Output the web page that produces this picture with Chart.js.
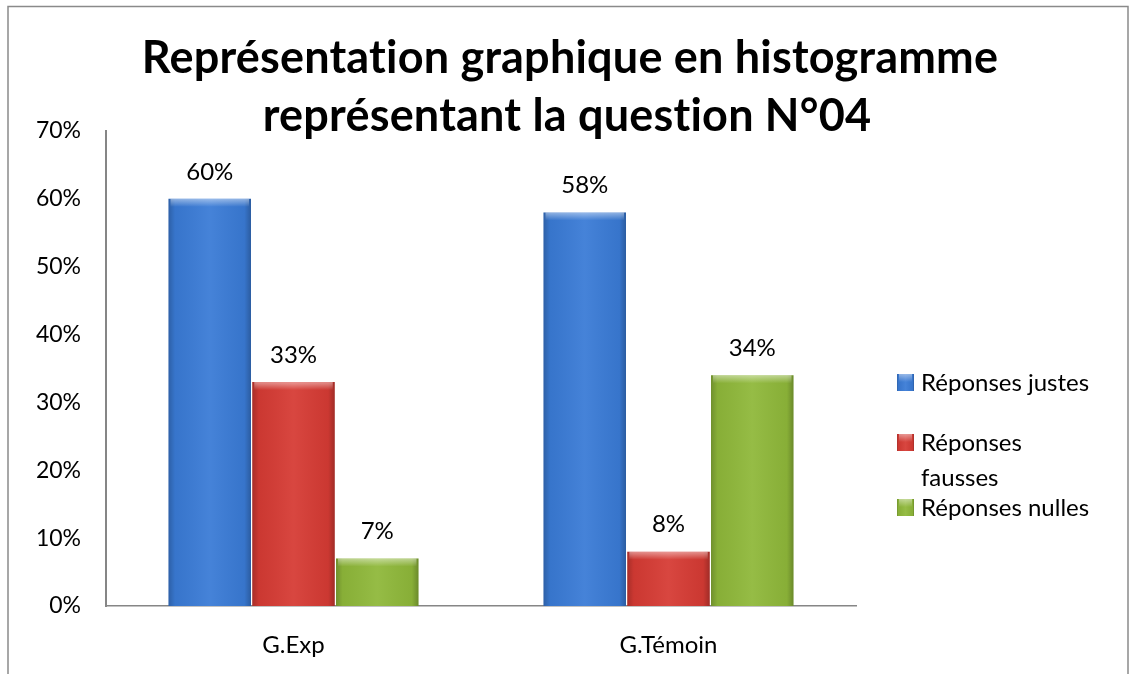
<!DOCTYPE html>
<html>
<head>
<meta charset="utf-8">
<script src="https://cdn.jsdelivr.net/npm/chart.js@4/dist/chart.umd.min.js"></script>
<style>
  html, body { margin: 0; padding: 0; background: #fff; }
  #wrap { width: 1133px; height: 674px; position: relative; }
</style>
</head>
<body>
<div id="wrap"><canvas id="c" width="1133" height="674"></canvas></div>
<script>
const titleLines = ["Représentation graphique en histogramme", "représentant la question N°04"];
const categories = ["G.Exp", "G.Témoin"];
const seriesNames = ["Réponses justes", ["Réponses", "fausses"], "Réponses nulles"];
const justes = [60, 58];
const fausses = [33, 8];
const nulles = [7, 34];
const yTicks = [0, 10, 20, 30, 40, 50, 60, 70];
const seriesColors = ["#3a7bd6", "#d63b34", "#8fb83a"];

const FONT = "Lato, 'Open Sans', sans-serif";

const framePlugin = {
  id: 'frame',
  beforeDraw(chart) {
    const ctx = chart.ctx;
    ctx.save();
    ctx.fillStyle = '#fff';
    ctx.fillRect(0, 0, chart.width, chart.height);
    ctx.strokeStyle = '#8a8a8a';
    ctx.lineWidth = 1.5;
    ctx.strokeRect(8, 6.5, 1120, 720);
    ctx.fillStyle = '#000';
    ctx.font = "bold 45px " + FONT;
    try { ctx.letterSpacing = '0.2px'; } catch (e) {}
    ctx.textAlign = 'center';
    ctx.textBaseline = 'alphabetic';
    ctx.fillText(titleLines[0], 570, 73);
    ctx.fillText(titleLines[1], 567, 131);
    ctx.restore();
  }
};

function shadeBar(ctx, x0, x1, y0, y1) {
  const w = x1 - x0;
  const g = ctx.createLinearGradient(x0, 0, x1, 0);
  g.addColorStop(0, 'rgba(0,0,0,0.22)');
  g.addColorStop(0.08, 'rgba(0,0,0,0.05)');
  g.addColorStop(0.5, 'rgba(255,255,255,0.06)');
  g.addColorStop(0.92, 'rgba(0,0,0,0.05)');
  g.addColorStop(1, 'rgba(0,0,0,0.25)');
  ctx.fillStyle = g;
  ctx.fillRect(x0, y0, w, y1 - y0);
  const h = Math.min(8, y1 - y0);
  const t = ctx.createLinearGradient(0, y0, 0, y0 + h);
  t.addColorStop(0, 'rgba(255,255,255,0.45)');
  t.addColorStop(1, 'rgba(255,255,255,0)');
  ctx.fillStyle = t;
  ctx.fillRect(x0 + 2, y0, w - 4, h);
}

const barDecor = {
  id: 'barDecor',
  afterDatasetsDraw(chart) {
    const ctx = chart.ctx;
    ctx.save();
    chart.data.datasets.forEach((ds, di) => {
      const meta = chart.getDatasetMeta(di);
      meta.data.forEach((bar, i) => {
        const half = bar.width / 2;
        shadeBar(ctx, bar.x - half, bar.x + half, bar.y, bar.base);
        ctx.fillStyle = '#000';
        ctx.font = "24px " + FONT;
        ctx.textAlign = 'center';
        ctx.textBaseline = 'middle';
        ctx.fillText(ds.data[i] + '%', bar.x, bar.y - 27);
      });
    });
    ctx.restore();
  }
};

const legendPlugin = {
  id: 'customLegend',
  afterDraw(chart) {
    const ctx = chart.ctx;
    const x = chart.chartArea.right + 41;
    const rows = [383, 443, 508];
    ctx.save();
    ctx.font = "24px " + FONT;
    ctx.textBaseline = 'middle';
    ctx.textAlign = 'left';
    chart.data.datasets.forEach((ds, di) => {
      const y = rows[di];
      ctx.fillStyle = ds.backgroundColor;
      ctx.fillRect(x, y - 9, 17, 17);
      shadeBar(ctx, x, x + 17, y - 9, y + 8);
      ctx.fillStyle = '#000';
      const lines = Array.isArray(ds.label) ? ds.label : [ds.label];
      lines.forEach((ln, k) => ctx.fillText(ln, x + 24, y + k * 35));
    });
    ctx.restore();
  }
};

new Chart(document.getElementById('c'), {
  type: 'bar',
  data: {
    labels: categories,
    datasets: [
      { label: seriesNames[0], data: justes, backgroundColor: seriesColors[0] },
      { label: seriesNames[1], data: fausses, backgroundColor: seriesColors[1] },
      { label: seriesNames[2], data: nulles, backgroundColor: seriesColors[2] }
    ]
  },
  options: {
    responsive: false,
    animation: false,
    devicePixelRatio: 1,
    layout: { padding: { left: 8, right: 277, top: 131, bottom: 16 } },
    datasets: { bar: { categoryPercentage: 0.67, barPercentage: 0.985 } },
    plugins: { legend: { display: false }, title: { display: false }, tooltip: { enabled: false } },
    scales: {
      x: {
        grid: { display: false, drawTicks: false },
        border: { display: true, color: '#868686', width: 1.5 },
        ticks: { color: '#000', font: { family: FONT, size: 24 }, padding: 25 },
        afterFit(s) { s.height = 52; }
      },
      y: {
        min: 0, max: 70,
        afterBuildTicks(s) { s.ticks = yTicks.map(v => ({ value: v })); },
        grid: { display: false, drawTicks: false },
        border: { display: true, color: '#868686', width: 2 },
        ticks: { color: '#000', font: { family: FONT, size: 23 }, padding: 25, callback: v => v + '%' },
        afterFit(s) { s.width = 98; }
      }
    }
  },
  plugins: [framePlugin, barDecor, legendPlugin]
});
</script>
</body>
</html>
